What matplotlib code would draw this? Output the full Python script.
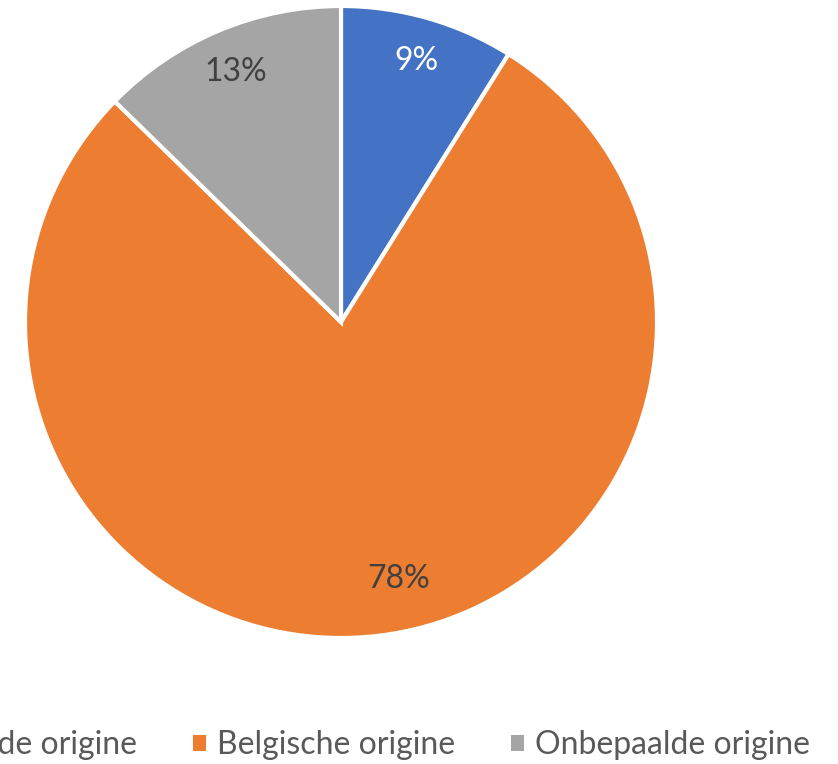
import matplotlib.pyplot as plt
from matplotlib.patches import Patch

labels = ["Vreemde origine", "Belgische origine", "Onbepaalde origine"]
values = [8.9, 78.4, 12.7]
colors = ["#4472C4", "#ED7D31", "#A5A5A5"]
label_colors = ["white", "#404040", "#404040"]

plt.rcParams['font.family'] = ['Lato', 'DejaVu Sans']

W, H = 838, 764
fig = plt.figure(figsize=(W / 100, H / 100), dpi=100)

cx, cy, r = 341, 322, 316
ax = fig.add_axes([(cx - r) / W, (H - cy - r) / H, 2 * r / W, 2 * r / H])

wedges, texts, autotexts = ax.pie(
    values, colors=colors, startangle=90, counterclock=False,
    autopct=lambda p: "{:.0f}%".format(p), pctdistance=0.86,
    wedgeprops=dict(edgecolor="white", linewidth=3),
    textprops=dict(fontsize=23))
for t, c in zip(autotexts, label_colors):
    t.set_color(c)
# Excel's best-fit nudges the big label a bit toward the right
x, y = autotexts[1].get_position()
autotexts[1].set_position((x + 0.08, y + 0.04))
ax.set_xlim(-1, 1)
ax.set_ylim(-1, 1)
ax.set_aspect("equal")

handles = [Patch(facecolor=c, edgecolor="none") for c in colors]
fig.legend(handles, labels, loc="center right",
           bbox_to_anchor=(810 / W, 1 - 745 / H), ncol=3, frameon=False,
           fontsize=23, labelcolor="#595959", handlelength=0.4,
           handleheight=0.4, handletextpad=0.35, columnspacing=1.75,
           borderpad=0, borderaxespad=0)

fig.savefig("out.png", dpi=100)
